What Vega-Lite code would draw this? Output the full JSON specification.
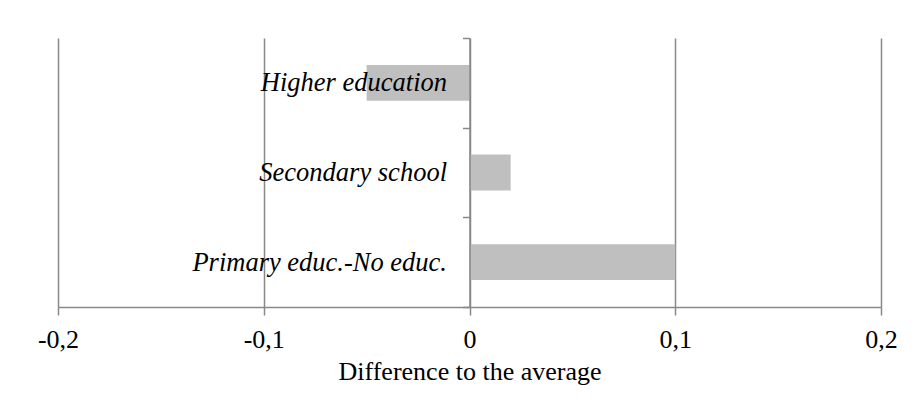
{
  "$schema": "https://vega.github.io/schema/vega-lite/v6.json",
  "autosize": "none",
  "width": 823,
  "height": 269,
  "padding": {"left": 58, "top": 38, "right": 35, "bottom": 113},
  "background": "white",
  "config": {"view": {"stroke": null}, "font": "Liberation Serif"},
  "data": {
    "values": [
      {"level": "Higher education", "diff": -0.05},
      {"level": "Secondary school", "diff": 0.02},
      {"level": "Primary educ.-No educ.", "diff": 0.1}
    ]
  },
  "mark": {"type": "bar", "color": "#BFBFBF", "height": {"band": 0.4}},
  "encoding": {
    "y": {
      "field": "level",
      "type": "nominal",
      "sort": null,
      "scale": {"paddingInner": 0, "paddingOuter": 0},
      "axis": {
        "title": null,
        "orient": "left",
        "offset": -411.5,
        "zindex": 2,
        "tickBand": "extent",
        "tickSize": 7,
        "tickWidth": 1.5,
        "tickColor": "#898989",
        "domainColor": "#898989",
        "domainWidth": 1.5,
        "grid": false,
        "labelFont": "Liberation Serif",
        "labelFontStyle": "italic",
        "labelFontSize": 26.5,
        "labelColor": "black",
        "labelPadding": 16,
        "labelLimit": 0
      }
    },
    "x": {
      "field": "diff",
      "type": "quantitative",
      "scale": {"domain": [-0.2, 0.2], "nice": false, "zero": false},
      "axis": {
        "title": "Difference to the average",
        "values": [-0.2, -0.1, 0, 0.1, 0.2],
        "labelExpr": "datum.value == 0 ? '0' : (datum.value < 0 ? '-' : '') + '0,' + round(abs(datum.value) * 10)",
        "grid": true,
        "gridColor": "#898989",
        "gridWidth": 1.5,
        "gridOpacity": 1,
        "tickSize": 8,
        "tickWidth": 1.5,
        "tickColor": "#898989",
        "domainColor": "#898989",
        "domainWidth": 1.5,
        "labelFont": "Liberation Serif",
        "labelFontSize": 26,
        "labelColor": "black",
        "labelPadding": 11,
        "labelFlush": false,
        "titleFont": "Liberation Serif",
        "titleFontSize": 26,
        "titleFontWeight": "normal",
        "titleColor": "black",
        "titlePadding": 6
      }
    }
  }
}
